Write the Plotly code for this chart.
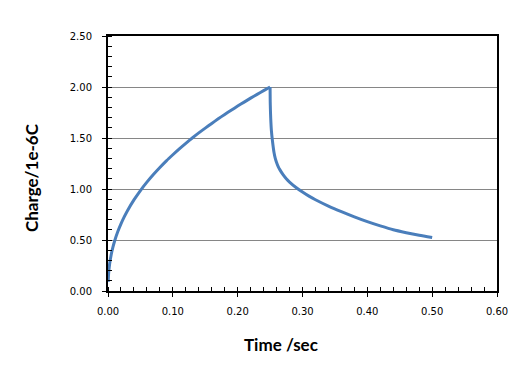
import plotly.graph_objects as go

# Charging phase (time in s, charge in 1e-6 C)
t_charge = [0.0003, 0.001, 0.0025, 0.005, 0.0075, 0.01, 0.015, 0.02, 0.025, 0.03,
            0.04, 0.05, 0.06, 0.07, 0.08, 0.09, 0.10, 0.11, 0.12, 0.13, 0.14,
            0.15, 0.16, 0.17, 0.18, 0.19, 0.20, 0.21, 0.22, 0.23, 0.24, 0.25]
q_charge = [0.09, 0.176, 0.264, 0.358, 0.427, 0.485, 0.580, 0.658, 0.726, 0.787,
            0.893, 0.985, 1.067, 1.142, 1.211, 1.276, 1.336, 1.394, 1.448, 1.500, 1.550,
            1.597, 1.643, 1.688, 1.731, 1.772, 1.813, 1.852, 1.891, 1.928, 1.964, 2.000]

# Discharge phase
t_dis = [0.25, 0.2502, 0.2505, 0.251, 0.252, 0.2535, 0.256, 0.258, 0.26, 0.2625,
         0.265, 0.27, 0.275, 0.28, 0.29, 0.30, 0.31, 0.32, 0.34, 0.36, 0.38, 0.40,
         0.42, 0.44, 0.46, 0.48, 0.50]
q_dis = [2.000, 1.860, 1.780, 1.690, 1.575, 1.480, 1.360, 1.300, 1.260, 1.220,
         1.190, 1.140, 1.100, 1.068, 1.015, 0.970, 0.930, 0.895, 0.833, 0.778, 0.727, 0.680,
         0.638, 0.600, 0.572, 0.547, 0.525]

x_ticks = [0.0, 0.1, 0.2, 0.3, 0.4, 0.5, 0.6]
y_ticks = [0.0, 0.5, 1.0, 1.5, 2.0, 2.5]

x_title = "Time /sec"
y_title = "Charge/1e-6C"

line_style = dict(color="#4a7ebb", width=3, shape="spline", smoothing=0.6)

fig = go.Figure()
fig.add_trace(go.Scatter(x=t_charge, y=q_charge, mode="lines", line=line_style,
                         showlegend=False, hoverinfo="skip"))
fig.add_trace(go.Scatter(x=t_dis, y=q_dis, mode="lines", line=line_style,
                         showlegend=False, hoverinfo="skip"))

tickfont = dict(family="DejaVu Sans", size=10, color="#000000")

fig.update_layout(
    width=530, height=372,
    margin=dict(l=108, r=33, t=36, b=81),
    paper_bgcolor="white", plot_bgcolor="white",
    xaxis=dict(range=[0, 0.6], tickvals=x_ticks, ticktext=[f"{v:.2f}" for v in x_ticks],
               showline=True, linecolor="black", linewidth=2, mirror=True,
               showgrid=False, zeroline=False,
               ticks="outside", ticklen=4, tickwidth=1, tickcolor="black",
               ticklabelstandoff=6,
               minor=dict(dtick=0.02, ticks="inside", ticklen=4, tickwidth=1,
                          tickcolor="black", showgrid=False),
               tickfont=tickfont, fixedrange=True),
    yaxis=dict(range=[0, 2.5], tickvals=y_ticks, ticktext=[f"{v:.2f}" for v in y_ticks],
               showline=True, linecolor="black", linewidth=2, mirror=True,
               showgrid=True, gridcolor="#868686", gridwidth=1, zeroline=False,
               ticks="outside", ticklen=4, tickwidth=1, tickcolor="black",
               ticklabelstandoff=8,
               minor=dict(dtick=0.1, ticks="inside", ticklen=4, tickwidth=1,
                          tickcolor="black", showgrid=False),
               tickfont=tickfont, fixedrange=True),
    xaxis2=dict(range=[0, 0.6], overlaying="x", anchor="y", tickvals=x_ticks,
                ticks="inside", ticklen=4, tickwidth=1, tickcolor="black",
                showticklabels=False, showline=False, showgrid=False, zeroline=False),
    yaxis2=dict(range=[0, 2.5], overlaying="y", anchor="x", tickvals=y_ticks,
                ticks="inside", ticklen=4, tickwidth=1, tickcolor="black",
                showticklabels=False, showline=False, showgrid=False, zeroline=False),
    annotations=[
        dict(text=f"<b>{x_title}</b>", x=0.445, y=-0.208, xref="paper", yref="paper",
             xanchor="center", yanchor="middle", showarrow=False,
             font=dict(family="Lato", size=17, color="#000000")),
        dict(text=f"<b>{y_title}</b>", x=-0.198, y=0.447, xref="paper", yref="paper",
             xanchor="center", yanchor="middle", showarrow=False, textangle=-90,
             font=dict(family="Lato", size=17, color="#000000")),
    ],
)

fig.write_html("out.html")
